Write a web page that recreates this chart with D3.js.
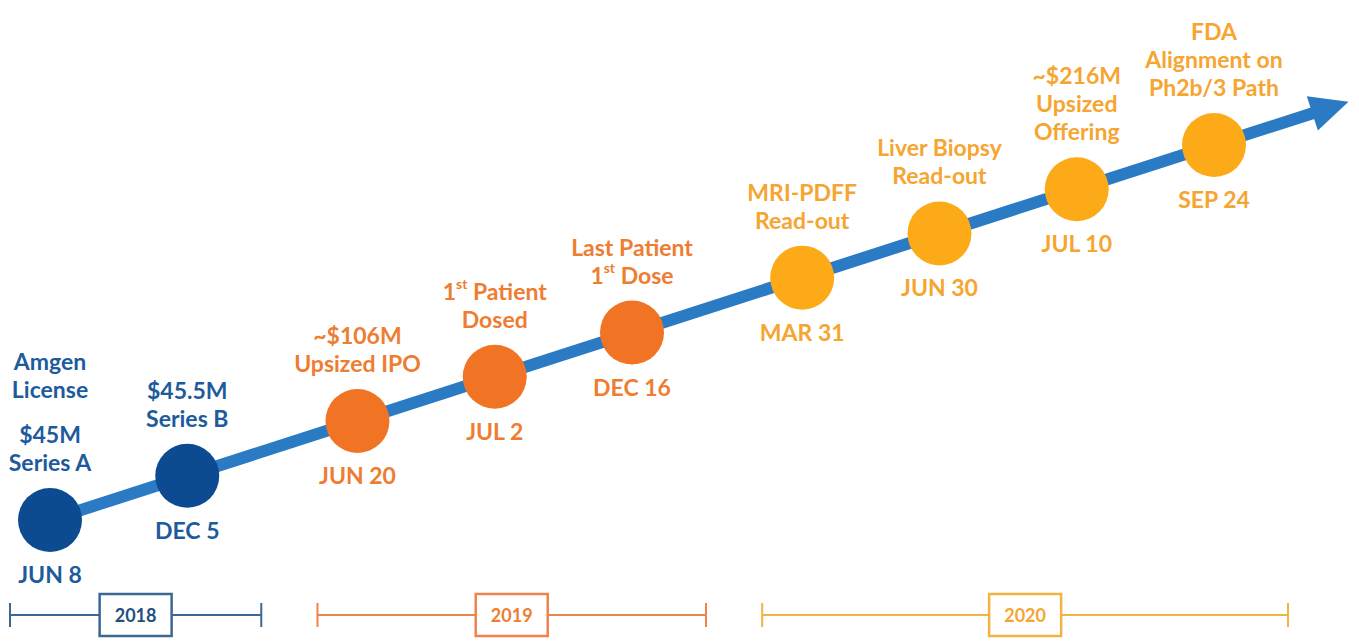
<!DOCTYPE html>
<html>
<head>
<meta charset="utf-8">
<script src="https://cdn.jsdelivr.net/npm/d3@7/dist/d3.min.js"></script>
<style>
  body { margin: 0; background: #fff; }
  svg { display: block; font-family: Lato, "Open Sans", sans-serif; font-weight: 700; }
</style>
</head>
<body>
<svg id="chart" width="1359" height="641"></svg>
<script>
// milestones, in order along the arrow
var dates = ["JUN 8", "DEC 5", "JUN 20", "JUL 2", "DEC 16", "MAR 31", "JUN 30", "JUL 10", "SEP 24"];
var eventYears = ["2018", "2018", "2019", "2019", "2019", "2020", "2020", "2020", "2020"];
// label blocks above each circle ("^" starts a superscript)
var labels = [
  [["Amgen", "License"], ["$45M", "Series A"]],
  [["$45.5M", "Series B"]],
  [["~$106M", "Upsized IPO"]],
  [["1^st Patient", "Dosed"]],
  [["Last Patient", "1^st Dose"]],
  [["MRI-PDFF", "Read-out"]],
  [["Liver Biopsy", "Read-out"]],
  [["~$216M", "Upsized", "Offering"]],
  [["FDA", "Alignment on", "Ph2b/3 Path"]]
];
var years = ["2018", "2019", "2020"];

var circleColor = {"2018": "#0c4a91", "2019": "#f07423", "2020": "#fdaa18"};
var textColor = {"2018": "#1d5b9c", "2019": "#ee7d32", "2020": "#f6a530"};
var bracketColor = {"2018": "#3b6994", "2019": "#f0834a", "2020": "#f1b442"};

var svg = d3.select("#chart");

// slot = order along the line, with a little extra room between years
var yearGap = 0.24;
var events = dates.map(function(d, i) {
  return {
    date: d,
    year: eventYears[i],
    blocks: labels[i],
    slot: i + years.indexOf(eventYears[i]) * yearGap
  };
});
var lastSlot = events[events.length - 1].slot;

var x = d3.scaleLinear().domain([0, lastSlot]).range([50, 1214]);
var y = d3.scaleLinear().domain([0, lastSlot]).range([520, 145]);

// main arrow
var tipSlot = lastSlot + 0.98;
var x0 = x(0), y0 = y(0), x1 = x(tipSlot), y1 = y(tipSlot);
var ang = Math.atan2(y1 - y0, x1 - x0);
var headLen = 38, headHalf = 18;
var bx = x1 - headLen * Math.cos(ang), by = y1 - headLen * Math.sin(ang);

svg.append("line")
  .attr("x1", x0).attr("y1", y0)
  .attr("x2", bx + 2 * Math.cos(ang)).attr("y2", by + 2 * Math.sin(ang))
  .attr("stroke", "#2a7ac4")
  .attr("stroke-width", 12);

svg.append("path")
  .attr("d", d3.line()([
    [x1, y1],
    [bx + headHalf * Math.sin(ang), by - headHalf * Math.cos(ang)],
    [bx - headHalf * Math.sin(ang), by + headHalf * Math.cos(ang)]
  ]) + "Z")
  .attr("fill", "#2a7ac4");

// circles
svg.selectAll("circle.event")
  .data(events)
  .enter().append("circle")
  .attr("class", "event")
  .attr("cx", function(d) { return x(d.slot); })
  .attr("cy", function(d) { return y(d.slot); })
  .attr("r", 32)
  .attr("fill", function(d) { return circleColor[d.year]; });

// text helpers
var lineH = 28, blockGap = 17, fontSize = 23;

function addLine(g, str, yy, color) {
  var t = g.append("text")
    .attr("x", 0).attr("y", yy)
    .attr("text-anchor", "middle")
    .attr("dominant-baseline", "central")
    .attr("font-size", fontSize)
    .attr("fill", color);
  var m = str.match(/^(.*?)\^(\S+)(.*)$/);
  if (m) {
    t.append("tspan").text(m[1]);
    t.append("tspan").attr("font-size", 14).attr("dy", -8).text(m[2]);
    t.append("tspan").attr("dy", 8).text(m[3]);
  } else {
    t.text(str);
  }
}

events.forEach(function(d) {
  var g = svg.append("g")
    .attr("transform", "translate(" + x(d.slot) + "," + y(d.slot) + ")");
  var col = textColor[d.year];

  // labels above, stacked upward from the bottom line
  var yy = -58;
  for (var b = d.blocks.length - 1; b >= 0; b--) {
    var lines = d.blocks[b];
    for (var k = lines.length - 1; k >= 0; k--) {
      addLine(g, lines[k], yy, col);
      yy -= lineH;
    }
    yy -= blockGap;
  }

  // date below
  addLine(g, d.date, 54, col);
});

// year brackets along the bottom
var bracketY = 615;
years.forEach(function(yr) {
  var ev = events.filter(function(e) { return e.year === yr; });
  var left = x(ev[0].slot) - 40;
  var right = x(ev[ev.length - 1].slot) + 74;
  var col = bracketColor[yr];
  var g = svg.append("g");
  g.append("line")
    .attr("x1", left).attr("x2", right)
    .attr("y1", bracketY).attr("y2", bracketY)
    .attr("stroke", col).attr("stroke-width", 2);
  [left, right].forEach(function(px) {
    g.append("line")
      .attr("x1", px).attr("x2", px)
      .attr("y1", bracketY - 12).attr("y2", bracketY + 12)
      .attr("stroke", col).attr("stroke-width", 2);
  });
  var mid = (left + right) / 2;
  g.append("rect")
    .attr("x", mid - 36).attr("y", bracketY - 21)
    .attr("width", 72).attr("height", 42)
    .attr("fill", "#fff")
    .attr("stroke", col).attr("stroke-width", 2.5);
  g.append("text")
    .attr("x", mid).attr("y", bracketY)
    .attr("text-anchor", "middle")
    .attr("dominant-baseline", "central")
    .attr("font-size", 18)
    .attr("fill", yr === "2018" ? "#1f4f80" : textColor[yr])
    .text(yr);
});
</script>
</body>
</html>
